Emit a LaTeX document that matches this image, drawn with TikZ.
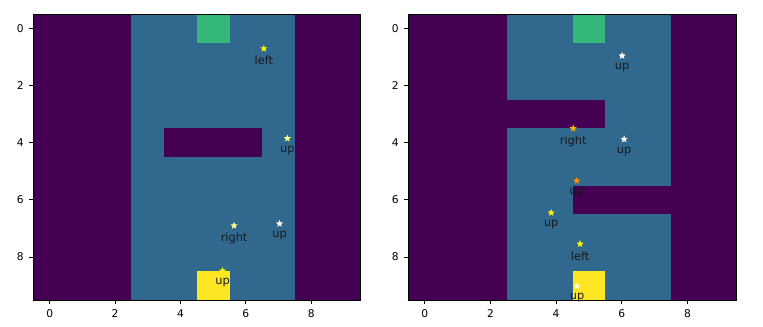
\documentclass[tikz,border=0pt]{standalone}
\usepackage{fontspec}
\setmainfont{DejaVu Sans}
\usetikzlibrary{positioning, shapes.geometric}

\definecolor{wallc}{HTML}{440154}
\definecolor{floorc}{HTML}{31688E}
\definecolor{goalc}{HTML}{35B779}
\definecolor{startc}{HTML}{FDE725}
\definecolor{paleyel}{HTML}{FFFF8C}
\definecolor{amber}{HTML}{FFB000}
\definecolor{darkamber}{HTML}{FF8C00}

\begin{document}
\begin{tikzpicture}[
    x=0.75pt, y=-0.75pt,
    agent/.style={star, star points=5, star point ratio=2.2,
                  minimum size=5.6pt, inner sep=0pt, fill=#1},
    act/.style={font=\fontsize{8.5}{9}\selectfont, text=black!90,
                inner sep=0pt},
    tick/.style={line width=0.6pt},
    ticklbl/.style={font=\fontsize{8}{9}\selectfont, inner sep=0pt}
  ]
  \useasboundingbox (0,0) rectangle (763,327);

  % left grid
  \begin{scope}[shift={(49.65,28.3)}, x=24.525pt, y=-21.45pt]
    \fill[floorc] (-0.5,-0.5) rectangle (9.5,9.5);
    \fill[wallc] (-0.5,-0.5) rectangle (2.5,9.5);
    \fill[wallc] (7.5,-0.5) rectangle (9.5,9.5);
    \fill[wallc] (3.5,3.5) rectangle (6.5,4.5);
    \fill[goalc] (4.5,-0.5) rectangle (5.5,0.5);
    \fill[startc] (4.5,8.5) rectangle (5.5,9.5);
    \draw[line width=0.6pt] (-0.5,-0.5) rectangle (9.5,9.5);
    \foreach \t in {0,2,4,6,8} {
      \draw[tick] (\t,9.5) -- ++(0,-3pt)
        node[ticklbl, below=4pt] (lx\t) {\t};
      \draw[tick] (-0.5,\t) -- ++(-3pt,0)
        node[ticklbl, left=4pt] (ly\t) {\t};
    }
    \node[agent=yellow] (a1) at (6.55,0.71) {};
    \node[act, below=4pt of a1] (a1t) {left};
    \node[agent=paleyel] (a2) at (7.27,3.85) {};
    \node[act, below=4pt of a2] (a2t) {up};
    \node[agent=paleyel] (a3) at (5.64,6.90) {};
    \node[act, below=4pt of a3] (a3t) {right};
    \node[agent=white!90!yellow] (a4) at (7.03,6.83) {};
    \node[act, below=4pt of a4] (a4t) {up};
    \node[agent=yellow] (a5) at (5.29,8.48) {};
    \node[act, below=4pt of a5] (a5t) {up};
  \end{scope}

  % right grid
  \begin{scope}[shift={(424.7,28.3)}, x=24.64pt, y=-21.45pt]
    \fill[floorc] (-0.5,-0.5) rectangle (9.5,9.5);
    \fill[wallc] (-0.5,-0.5) rectangle (2.5,9.5);
    \fill[wallc] (7.5,-0.5) rectangle (9.5,9.5);
    \fill[wallc] (2.5,2.5) rectangle (5.5,3.5);
    \fill[wallc] (4.5,5.5) rectangle (7.5,6.5);
    \fill[goalc] (4.5,-0.5) rectangle (5.5,0.5);
    \fill[startc] (4.5,8.5) rectangle (5.5,9.5);
    \draw[line width=0.6pt] (-0.5,-0.5) rectangle (9.5,9.5);
    \foreach \t in {0,2,4,6,8} {
      \draw[tick] (\t,9.5) -- ++(0,-3pt)
        node[ticklbl, below=4pt] (rx\t) {\t};
      \draw[tick] (-0.5,\t) -- ++(-3pt,0)
        node[ticklbl, left=4pt] (ry\t) {\t};
    }
    \node[agent=white] (b1) at (6.01,0.96) {};
    \node[act, below=4pt of b1] (b1t) {up};
    \node[agent=amber] (b2) at (4.52,3.50) {};
    \node[act, below=4pt of b2] (b2t) {right};
    \node[agent=white] (b3) at (6.07,3.88) {};
    \node[act, below=4pt of b3] (b3t) {up};
    \node[agent=darkamber] (b4) at (4.63,5.33) {};
    \node[act, below=4pt of b4] (b4t) {up};
    \node[agent=yellow] (b5) at (3.85,6.45) {};
    \node[act, below=4pt of b5] (b5t) {up};
    \node[agent=yellow] (b6) at (4.73,7.54) {};
    \node[act, below=4pt of b6] (b6t) {left};
    \node[agent=white!85!yellow] (b7) at (4.64,9.01) {};
    \node[act, below=4pt of b7] (b7t) {up};
  \end{scope}
\end{tikzpicture}
\end{document}
